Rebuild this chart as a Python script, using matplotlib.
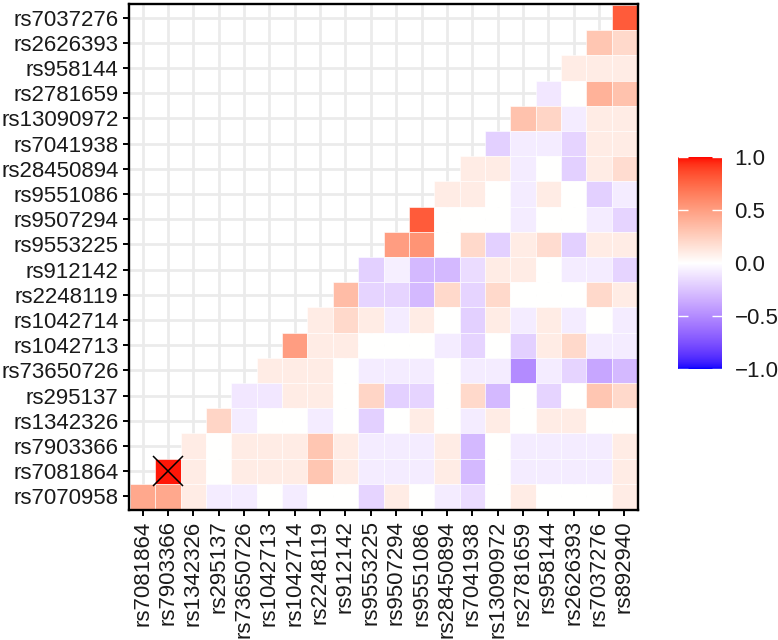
import numpy as np
import matplotlib
matplotlib.use("Agg")
import matplotlib.pyplot as plt
from matplotlib.colors import ListedColormap, Normalize
from matplotlib.patches import Rectangle

plt.rcParams['font.family'] = ['Liberation Sans', 'DejaVu Sans']

# variables (y axis bottom->top is var[0..19], x axis left->right is var[1..20])
variables = ["rs7070958", "rs7081864", "rs7903366", "rs1342326", "rs295137",
             "rs73650726", "rs1042713", "rs1042714", "rs2248119", "rs912142",
             "rs9553225", "rs9507294", "rs9551086", "rs28450894", "rs7041938",
             "rs13090972", "rs2781659", "rs958144", "rs2626393", "rs7037276",
             "rs892940"]
x_labels = variables[1:]
y_labels = variables[:-1]

# correlation rows, listed from top row (rs7037276) to bottom row (rs7070958);
# each row holds values for the rightmost filled columns
corr_rows = [
    [0.8],
    [0.3, 0.2],
    [0.1, 0.1, 0.1],
    [-0.1, 0.0, 0.4, 0.32],
    [0.32, 0.22, -0.08, 0.1, 0.1],
    [-0.2, -0.08, -0.08, -0.18, 0.1, 0.1],
    [0.1, 0.1, -0.08, 0.0, -0.2, 0.1, 0.18],
    [0.1, 0.1, 0.0, -0.08, 0.1, 0.0, -0.2, -0.08],
    [0.8, 0.0, 0.0, 0.0, -0.08, 0.0, 0.0, -0.08, -0.18],
    [0.5, 0.55, 0.0, 0.2, -0.2, 0.1, 0.18, -0.2, 0.1, 0.1],
    [-0.2, -0.07, -0.3, -0.3, -0.15, 0.1, 0.1, 0.0, -0.08, -0.08, -0.18],
    [0.35, -0.18, -0.18, -0.3, 0.2, -0.18, 0.2, 0.0, 0.0, 0.0, 0.2, 0.1],
    [0.1, 0.2, 0.1, -0.08, 0.1, 0.0, -0.2, 0.1, -0.08, 0.1, -0.08, 0.0, -0.08],
    [0.5, 0.1, 0.1, 0.0, 0.0, 0.0, -0.08, -0.18, 0.0, -0.2, 0.1, 0.2, -0.08, -0.08],
    [0.1, 0.1, 0.1, 0.0, -0.08, -0.08, -0.08, 0.0, -0.08, -0.08, -0.5, -0.08, -0.18, -0.38, -0.3],
    [-0.1, -0.1, 0.1, 0.1, 0.0, 0.22, -0.2, -0.18, 0.0, 0.2, -0.3, 0.0, -0.18, 0.0, 0.3, 0.2],
    [0.22, -0.08, 0.0, 0.0, -0.08, 0.0, -0.2, 0.0, 0.1, 0.0, -0.08, 0.1, 0.0, 0.1, 0.1, 0.0, 0.0],
    [0.1, 0.0, 0.1, 0.1, 0.1, 0.3, 0.1, -0.08, -0.08, -0.08, 0.1, -0.3, 0.0, -0.08, -0.08, -0.08, -0.08, 0.1],
    [0.98, 0.1, 0.0, 0.1, 0.1, 0.1, 0.3, 0.1, -0.08, -0.08, -0.08, 0.1, -0.3, 0.0, -0.08, -0.08, -0.08, -0.08, 0.1],
    [0.45, 0.45, 0.1, -0.08, -0.08, 0.0, -0.08, 0.0, 0.0, -0.18, 0.1, 0.0, -0.08, -0.15, 0.0, 0.1, 0.0, 0.0, 0.0, 0.1],
]

# insignificant cells marked with a cross: (x label, y label)
crossed = [("rs7903366", "rs7081864")]

colorbar_ticks = [-1.0, -0.5, 0.0, 0.5, 1.0]
colorbar_labels = ["\u22121.0", "\u22120.5", "0.0", "0.5", "1.0"]


# ---- Lab-space gradient like ggplot2's scale_fill_gradient2 ----
def srgb_to_lab(rgb):
    rgb = np.asarray(rgb, float)
    lin = np.where(rgb <= 0.04045, rgb / 12.92, ((rgb + 0.055) / 1.055) ** 2.4)
    M = np.array([[0.4124, 0.3576, 0.1805],
                  [0.2126, 0.7152, 0.0722],
                  [0.0193, 0.1192, 0.9505]])
    xyz = lin @ M.T
    white = np.array([0.95047, 1.0, 1.08883])
    t = xyz / white
    d = 6 / 29
    f = np.where(t > d ** 3, np.cbrt(t), t / (3 * d * d) + 4 / 29)
    L = 116 * f[..., 1] - 16
    a = 500 * (f[..., 0] - f[..., 1])
    b = 200 * (f[..., 1] - f[..., 2])
    return np.stack([L, a, b], -1)


def lab_to_srgb(lab):
    lab = np.asarray(lab, float)
    fy = (lab[..., 0] + 16) / 116
    fx = fy + lab[..., 1] / 500
    fz = fy - lab[..., 2] / 200
    d = 6 / 29
    def finv(f):
        return np.where(f > d, f ** 3, 3 * d * d * (f - 4 / 29))
    white = np.array([0.95047, 1.0, 1.08883])
    xyz = np.stack([finv(fx), finv(fy), finv(fz)], -1) * white
    Minv = np.array([[3.2406, -1.5372, -0.4986],
                     [-0.9689, 1.8758, 0.0415],
                     [0.0557, -0.2040, 1.0570]])
    lin = xyz @ Minv.T
    lin = np.clip(lin, 0, 1)
    rgb = np.where(lin <= 0.0031308, 12.92 * lin, 1.055 * lin ** (1 / 2.4) - 0.055)
    return np.clip(rgb, 0, 1)


lab_blue = srgb_to_lab([0, 0, 1])
lab_white = srgb_to_lab([1, 1, 1])
lab_red = srgb_to_lab([1, 0, 0])
vals = np.linspace(-1, 1, 512)
labs = []
for v in vals:
    if v < 0:
        labs.append(lab_white + (lab_blue - lab_white) * (-v))
    else:
        labs.append(lab_white + (lab_red - lab_white) * v)
cmap = ListedColormap(lab_to_srgb(np.array(labs)))
norm = Normalize(-1, 1)

FS = 16
TXT = "#1a1a1a"
n = len(x_labels)

fig = plt.figure(figsize=(7.78, 6.4), dpi=100)
ax = fig.add_axes([129 / 778, 1 - 510 / 640, 509 / 778, 506 / 640])

ax.set_axisbelow(True)
ax.grid(True, color="#EBEBEB", linewidth=2.0, zorder=0)

# tiles: only the filled cells
for r, row in enumerate(corr_rows):
    j = n - 1 - r
    start = n - len(row)
    for k, v in enumerate(row):
        i = start + k
        ax.add_patch(Rectangle((i - 0.5, j - 0.5), 1, 1,
                               facecolor=cmap(norm(v)), edgecolor="white",
                               linewidth=0.4, zorder=2))

for xl, yl in crossed:
    ax.plot(x_labels.index(xl), y_labels.index(yl), marker="x", color="black",
            markersize=21, markeredgewidth=1.1, zorder=3, linestyle="none")

ax.set_xlim(-0.54, n - 0.46)
ax.set_ylim(-0.54, n - 0.46)
ax.set_xticks(range(n))
ax.set_xticklabels(x_labels, rotation=90, fontsize=FS, color=TXT)
ax.set_yticks(range(n))
ax.set_yticklabels(y_labels, fontsize=FS, color=TXT)
ax.tick_params(axis="both", length=4.3, width=1.4, color="black", pad=3.2)
for s in ax.spines.values():
    s.set_linewidth(1.7)
    s.set_color("black")

cax = fig.add_axes([678 / 778, 1 - 369 / 640, 44 / 778, 212 / 640])
sm = matplotlib.cm.ScalarMappable(norm=norm, cmap=cmap)
cb = fig.colorbar(sm, cax=cax)
cb.outline.set_visible(False)
cb.set_ticks(colorbar_ticks)
cb.set_ticklabels(colorbar_labels)
cax.yaxis.set_ticks_position("both")
cax.tick_params(axis="y", direction="in", length=7, width=1.0, color="white",
                labelsize=FS, labelcolor=TXT, pad=9, labelleft=False,
                labelright=True)

fig.savefig("out.png", dpi=100)
